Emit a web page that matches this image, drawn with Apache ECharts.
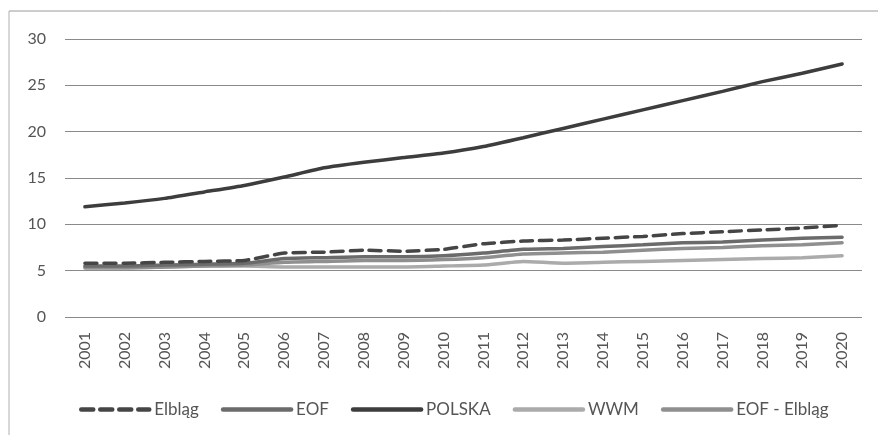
<!DOCTYPE html>
<html>
<head>
<meta charset="utf-8">
<script src="https://cdn.jsdelivr.net/npm/echarts@6/dist/echarts.min.js"></script>
<style>
  html, body { margin: 0; padding: 0; background: #fff; }
  #chart { width: 878px; height: 435px; }
</style>
</head>
<body>
<div id="chart"></div>
<script>
// Years on the category axis
const years = ['2001','2002','2003','2004','2005','2006','2007','2008','2009','2010',
               '2011','2012','2013','2014','2015','2016','2017','2018','2019','2020'];

// Series values per year
const elblag    = [5.8, 5.8, 5.9, 6.0, 6.1, 6.9, 7.0, 7.2, 7.1, 7.3, 7.9, 8.2, 8.3, 8.5, 8.7, 9.0, 9.2, 9.4, 9.6, 9.9];
const eof       = [5.5, 5.5, 5.6, 5.7, 5.8, 6.3, 6.4, 6.5, 6.5, 6.6, 6.9, 7.3, 7.4, 7.6, 7.8, 8.0, 8.1, 8.3, 8.5, 8.6];
const polska    = [11.9, 12.3, 12.8, 13.5, 14.2, 15.1, 16.1, 16.7, 17.2, 17.7, 18.4, 19.35, 20.35, 21.35, 22.35, 23.35, 24.35, 25.4, 26.3, 27.3];
const wwm       = [5.4, 5.4, 5.4, 5.5, 5.5, 5.4, 5.4, 5.4, 5.4, 5.5, 5.6, 6.0, 5.8, 5.9, 6.0, 6.1, 6.2, 6.3, 6.4, 6.6];
const eofElblag = [5.3, 5.3, 5.4, 5.5, 5.6, 5.9, 6.0, 6.1, 6.1, 6.2, 6.4, 6.8, 6.9, 7.0, 7.2, 7.4, 7.5, 7.7, 7.8, 8.0];

// Value axis ticks
const yTicks = [0, 5, 10, 15, 20, 25, 30];

const FONT = 'Lato, "Open Sans", sans-serif';
const TEXT = '#555';

function line(name, data, color, dashed) {
  return {
    name: name,
    type: 'line',
    data: data,
    symbol: 'none',
    smooth: 0.15,
    lineStyle: {
      color: color,
      width: 3.5,
      type: dashed ? [12, 7] : 'solid',
      cap: 'round'
    },
    itemStyle: { color: color }
  };
}

const chart = echarts.init(document.getElementById('chart'), null, { renderer: 'canvas' });
chart.setOption({
  animation: false,
  backgroundColor: '#fff',
  grid: { left: 65, right: 16, top: 39, bottom: 118, containLabel: false },
  xAxis: {
    type: 'category',
    data: years,
    boundaryGap: true,
    axisLine: { show: false },
    axisTick: { show: false },
    axisLabel: {
      rotate: 90,
      margin: 15,
      color: TEXT,
      fontFamily: FONT,
      fontSize: 16
    }
  },
  yAxis: {
    type: 'value',
    min: yTicks[0],
    max: yTicks[yTicks.length - 1],
    interval: 5,
    axisLine: { show: false },
    axisTick: { show: false },
    axisLabel: { margin: 19, color: TEXT, fontFamily: FONT, fontSize: 16 },
    splitLine: { lineStyle: { color: '#8a8a8a', width: 1.2 } }
  },
  legend: {
    bottom: 12,
    left: 74,
    itemWidth: 68,
    itemHeight: 10,
    itemGap: 22,
    itemStyle: { opacity: 0, borderWidth: 0 },
    lineStyle: { width: 4.5 },
    textStyle: { color: TEXT, fontFamily: FONT, fontSize: 17 },
    data: ['Elbląg', 'EOF', 'POLSKA', 'WWM', 'EOF - Elbląg']
  },
  graphic: [
    { type: 'line', shape: { x1: 9, y1: 11, x2: 878, y2: 11 }, style: { stroke: '#9a9a9a', lineWidth: 1 } },
    { type: 'line', shape: { x1: 9, y1: 11, x2: 9, y2: 435 }, style: { stroke: '#b0b0b0', lineWidth: 1 } }
  ],
  series: [
    line('POLSKA', polska, '#3d3d3d', false),
    line('WWM', wwm, '#ababab', false),
    line('EOF - Elbląg', eofElblag, '#8f8f8f', false),
    line('EOF', eof, '#6b6b6b', false),
    line('Elbląg', elblag, '#454545', true)
  ]
});
</script>
</body>
</html>
